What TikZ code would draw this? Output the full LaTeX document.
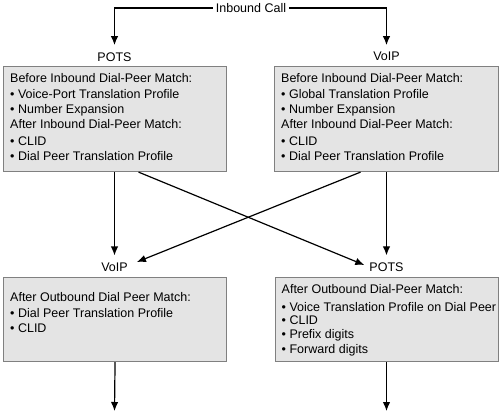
\documentclass[tikz,border=0pt]{standalone}
\usepackage{fontspec}
\setmainfont{Liberation Sans}
\usetikzlibrary{arrows.meta}
\definecolor{boxfill}{HTML}{E4E4E4}
\definecolor{boxline}{HTML}{808080}
\tikzset{
  box/.style={draw=boxline, fill=boxfill, line width=1.1pt, rectangle, inner sep=0pt, anchor=north west},
  txt/.style={anchor=base west, inner sep=0pt, font=\fontsize{12.5pt}{14pt}\selectfont},
  lbl/.style={inner sep=3pt, font=\fontsize{12.5pt}{14pt}\selectfont},
  conn/.style={line width=1.2pt, -{Latex[length=9pt,width=7.5pt]}},
  plain/.style={line width=1.2pt}
}
\begin{document}
\begin{tikzpicture}[x=1pt,y=-1pt]
\useasboundingbox (0,0) rectangle (500,417);
% boxes
\node[box, minimum width=223pt, minimum height=105pt] (b1) at (3,66) {};
\node[box, minimum width=224pt, minimum height=105pt] (b2) at (274,66) {};
\node[box, minimum width=223pt, minimum height=84pt] (b3) at (3,277) {};
\node[box, minimum width=223pt, minimum height=84pt] (b4) at (275,277) {};
% box 1 text
\node[txt] (t11) at (10,82.3) {Before Inbound Dial-Peer Match:};
\node[txt] (t12) at (10,99) {• Voice-Port Translation Profile};
\node[txt] (t13) at (10,113.3) {• Number Expansion};
\node[txt] (t14) at (10,128.3) {After Inbound Dial-Peer Match:};
\node[txt] (t15) at (10,145.7) {• CLID};
\node[txt] (t16) at (10,160) {• Dial Peer Translation Profile};
% box 2 text
\node[txt] (t21) at (281,82.3) {Before Inbound Dial-Peer Match:};
\node[txt] (t22) at (281,99) {• Global Translation Profile};
\node[txt] (t23) at (281,113.3) {• Number Expansion};
\node[txt] (t24) at (281,128.3) {After Inbound Dial-Peer Match:};
\node[txt] (t25) at (281,145.7) {• CLID};
\node[txt] (t26) at (281,160) {• Dial Peer Translation Profile};
% box 3 text
\node[txt] (t31) at (10,301) {After Outbound Dial Peer Match:};
\node[txt] (t32) at (10,317.6) {• Dial Peer Translation Profile};
\node[txt] (t33) at (10,332.6) {• CLID};
% box 4 text
\node[txt] (t41) at (281.5,293) {After Outbound Dial-Peer Match:};
\node[txt] (t42) at (281.5,311) {• Voice Translation Profile on Dial Peer};
\node[txt] (t43) at (281.5,324.5) {• CLID};
\node[txt] (t44) at (281.5,338.5) {• Prefix digits};
\node[txt] (t45) at (281.5,353) {• Forward digits};
% labels
\node[lbl] (call) at (251,8) {Inbound Call};
\node[lbl] (pots1) at (114.5,56.7) {POTS};
\node[lbl] (voip1) at (386.5,56.7) {VoIP};
\node[lbl] (voip2) at (114.5,267) {VoIP};
\node[lbl] (pots2) at (386.5,267) {POTS};
% free ends
\coordinate (e3) at (114.5,411);
\coordinate (e4) at (386.5,411);
% connectors
\draw[conn] (call.west) -| ([yshift=4pt]pots1.north);
\draw[conn] (call.east) -| ([yshift=4pt]voip1.north);
\draw[conn] (b1.south -| pots1) -- ([yshift=4pt]voip2.north);
\draw[conn] (b2.south -| voip1) -- ([yshift=4pt]pots2.north);
\draw[conn] ([xshift=23.5pt]b1.south) -- ([xshift=-2pt,yshift=2pt]pots2.west);
\draw[conn] ([xshift=-26pt]b2.south) -- ([xshift=6pt,yshift=5pt]voip2.east);
\draw[conn] (b3.south) -- (e3);
\draw[conn] (b4.south -| e4) -- (e4);
\end{tikzpicture}
\end{document}
